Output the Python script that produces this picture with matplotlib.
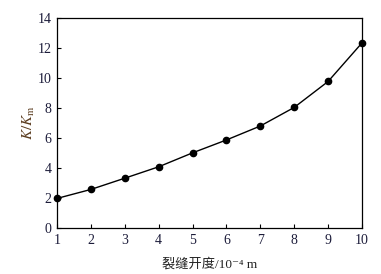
import matplotlib
matplotlib.use("Agg")
import matplotlib.pyplot as plt

# crack aperture (10^-4 m) vs permeability ratio K/Km
aperture = [1, 2, 3, 4, 5, 6, 7, 8, 9, 10]
k_ratio = [1.97, 2.57, 3.32, 4.08, 5.01, 5.87, 6.80, 8.04, 9.77, 12.34]

plt.rcParams['font.family'] = ['Liberation Serif', 'Noto Sans CJK SC', 'DejaVu Sans']
plt.rcParams['mathtext.fontset'] = 'stix'

fig = plt.figure(figsize=(3.81, 2.74), dpi=100)
ax = fig.add_axes([0.1496, 0.168, 0.8004, 0.766])

ax.plot(aperture, k_ratio, color='black', linewidth=1.0,
        marker='o', markersize=4.5, clip_on=False, zorder=3)

ax.set_xlim(1, 10)
ax.set_ylim(0, 14)
ax.set_xticks(aperture)
ax.set_yticks(range(0, 15, 2))

tick_color = '#1c1c3a'
ax.tick_params(direction='in', length=3, width=0.8, labelsize=10,
               colors='black', labelcolor=tick_color, pad=4)
for s in ax.spines.values():
    s.set_linewidth(0.9)

# plain text (no mathtext) so the CJK glyphs can fall back per character
ax.set_xlabel('裂缝开度/10⁻⁴ m', fontsize=9.5, color='#222222', labelpad=8,
              family=['Liberation Serif', 'Noto Sans CJK SC', 'DejaVu Sans'])
ax.set_ylabel('$K/K_{\\mathrm{m}}$', fontsize=11, color='#5a3b1e', labelpad=0)

fig.savefig('out.png', dpi=100)
